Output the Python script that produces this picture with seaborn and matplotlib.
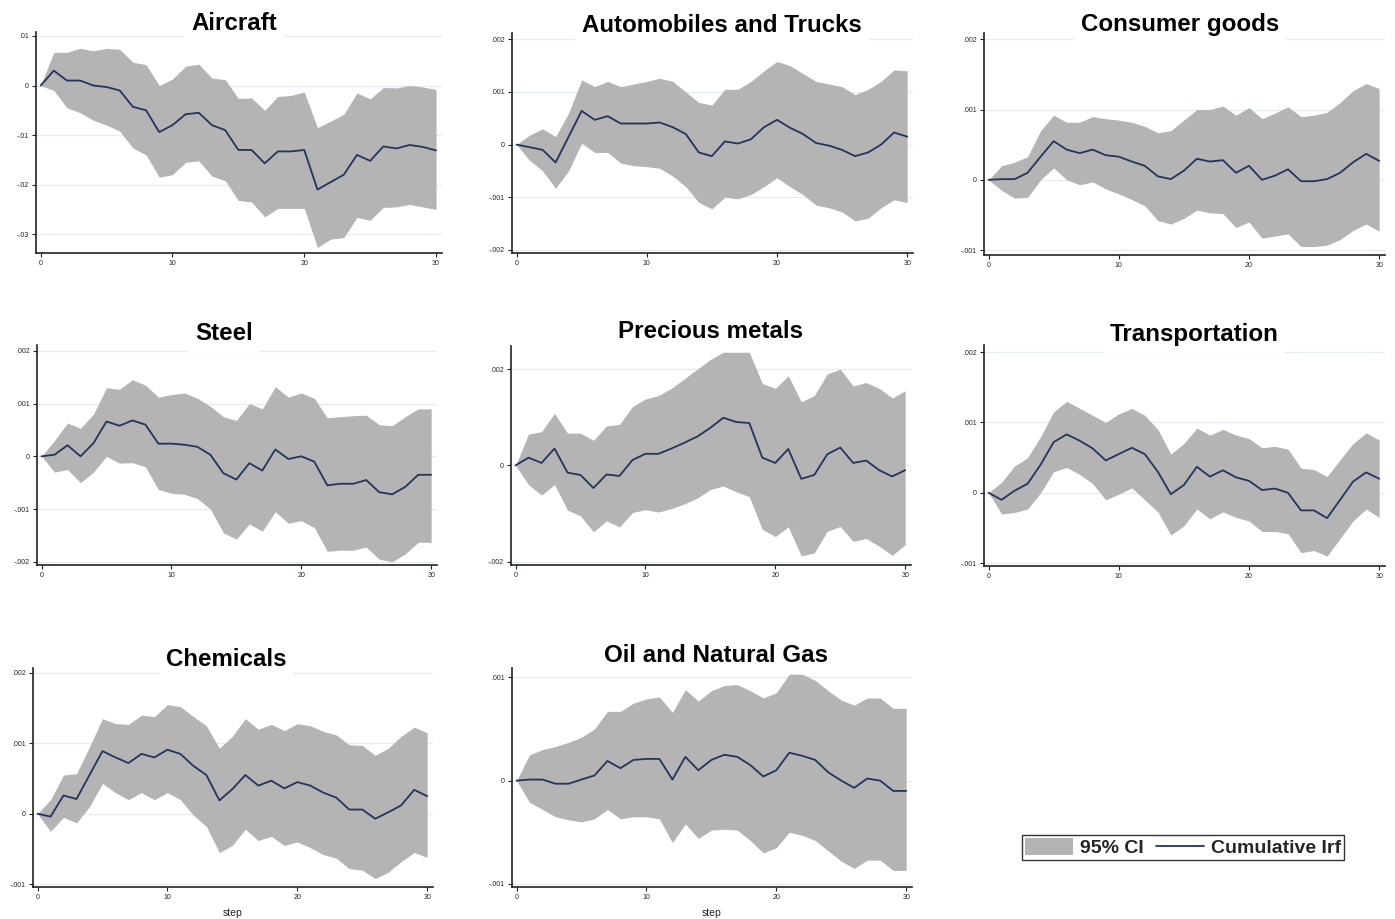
import numpy as np
import pandas as pd
import matplotlib
matplotlib.use("Agg")
import matplotlib.pyplot as plt
import seaborn as sns
from matplotlib.patches import Patch
from matplotlib.lines import Line2D

steps = list(range(31))

titles = ["Aircraft", "Automobiles and Trucks", "Consumer goods", "Steel",
          "Precious metals", "Transportation", "Chemicals", "Oil and Natural Gas"]

aircraft_irf = [0, 0.003, 0.001, 0.001, 0.0, -0.0003, -0.001, -0.0043, -0.005, -0.0094, -0.008,
                -0.0058, -0.0055, -0.008, -0.009, -0.013, -0.013, -0.0157, -0.0133, -0.0133, -0.013,
                -0.021, -0.0195, -0.018, -0.014, -0.0152, -0.0123, -0.0127, -0.012, -0.0124, -0.0131]
aircraft_hi = [0, 0.0067, 0.0067, 0.0075, 0.007, 0.0075, 0.0073, 0.0047, 0.0042, 0.0, 0.0013,
               0.0039, 0.0043, 0.0015, 0.0012, -0.0026, -0.0025, -0.005, -0.0022, -0.002, -0.0013,
               -0.0085, -0.0072, -0.0058, -0.0015, -0.0027, -0.0004, -0.0005, 0.0, -0.0003, -0.0008]
aircraft_lo = [0, -0.001, -0.0045, -0.0055, -0.007, -0.008, -0.0092, -0.0126, -0.014, -0.0185, -0.018,
               -0.0155, -0.0152, -0.0183, -0.0192, -0.0232, -0.0235, -0.0265, -0.0248, -0.0248, -0.0248,
               -0.0327, -0.031, -0.0307, -0.0266, -0.0272, -0.0246, -0.0245, -0.024, -0.0245, -0.025]

autos_irf = [0, -0.00005, -0.0001, -0.00034, 0.00015, 0.00064, 0.00047, 0.00054, 0.0004, 0.0004, 0.0004,
             0.00042, 0.00033, 0.0002, -0.00015, -0.00022, 0.00006, 0.00002, 0.0001, 0.00033, 0.00047,
             0.00032, 0.0002, 0.00003, -0.00002, -0.0001, -0.00022, -0.00015, 0.0, 0.00023, 0.00015]
autos_hi = [0, 0.00018, 0.0003, 0.00015, 0.0006, 0.00123, 0.0011, 0.0012, 0.0011, 0.00115, 0.0012,
            0.00126, 0.0012, 0.001, 0.0008, 0.00075, 0.00105, 0.00105, 0.0012, 0.0014, 0.00158,
            0.0015, 0.00135, 0.0012, 0.00115, 0.0011, 0.00095, 0.00105, 0.0012, 0.00142, 0.0014]
autos_lo = [0, -0.0003, -0.0005, -0.00083, -0.0005, 0.00003, -0.00015, -0.00015, -0.00035, -0.0004, -0.00042,
            -0.00045, -0.0006, -0.0008, -0.0011, -0.00122, -0.001, -0.00103, -0.00095, -0.0008, -0.00063,
            -0.0008, -0.00095, -0.00115, -0.0012, -0.00128, -0.00145, -0.0014, -0.0012, -0.00105, -0.0011]

consumer_irf = [0, 0.00001, 0.00001, 0.0001, 0.00033, 0.00055, 0.00043, 0.00038, 0.00043, 0.00035, 0.00033,
                0.00026, 0.0002, 0.00005, 0.00001, 0.00013, 0.0003, 0.00026, 0.00028, 0.0001, 0.0002,
                0.0, 0.00006, 0.00015, -0.00002, -0.00002, 0.00001, 0.0001, 0.00025, 0.00037, 0.00027]
consumer_hi = [0, 0.0002, 0.00025, 0.00033, 0.0007, 0.00092, 0.00082, 0.00082, 0.0009, 0.00087, 0.00085,
               0.00082, 0.00076, 0.00067, 0.0007, 0.00085, 0.001, 0.001, 0.00105, 0.00092, 0.00103,
               0.00087, 0.00095, 0.00104, 0.0009, 0.00092, 0.00096, 0.0011, 0.00127, 0.00137, 0.0013]
consumer_lo = [0, -0.00015, -0.00026, -0.00025, 0.0, 0.00017, 0.0, -0.00007, -0.00003, -0.00013, -0.0002,
               -0.00028, -0.00037, -0.00058, -0.00063, -0.00055, -0.00043, -0.00047, -0.00048, -0.00068, -0.0006,
               -0.00083, -0.0008, -0.00077, -0.00095, -0.00095, -0.00093, -0.00085, -0.00072, -0.00063, -0.00073]

steel_irf = [0, 0.00003, 0.00021, 0.0, 0.00025, 0.00066, 0.00058, 0.00068, 0.0006, 0.00024, 0.00024,
             0.00022, 0.00018, 0.00003, -0.00032, -0.00044, -0.00013, -0.00027, 0.00013, -0.00005, 0.0,
             -0.0001, -0.00055, -0.00052, -0.00052, -0.00045, -0.00068, -0.00072, -0.00058, -0.00035, -0.00035]
steel_hi = [0, 0.0003, 0.00063, 0.00053, 0.0008, 0.0013, 0.00127, 0.00145, 0.00135, 0.00112, 0.00117,
            0.0012, 0.0011, 0.00095, 0.00075, 0.00068, 0.001, 0.0009, 0.00132, 0.00112, 0.0012,
            0.0011, 0.00073, 0.00075, 0.00077, 0.00078, 0.0006, 0.00058, 0.00075, 0.0009, 0.0009]
steel_lo = [0, -0.0003, -0.00025, -0.0005, -0.0003, 0.0, -0.00013, -0.00012, -0.0002, -0.00063, -0.0007,
            -0.00072, -0.0008, -0.001, -0.00145, -0.00157, -0.00128, -0.00142, -0.00105, -0.00127, -0.00122,
            -0.00135, -0.0018, -0.00178, -0.00178, -0.00172, -0.00195, -0.002, -0.00185, -0.00163, -0.00163]

precious_irf = [0, 0.00016, 0.00005, 0.00035, -0.00015, -0.0002, -0.00047, -0.00019, -0.00022, 0.00011, 0.00024,
                0.00024, 0.00035, 0.00047, 0.0006, 0.00078, 0.00099, 0.0009, 0.00088, 0.00016, 0.00005,
                0.00034, -0.00028, -0.0002, 0.00023, 0.00037, 0.00005, 0.0001, -0.0001, -0.00023, -0.0001]
precious_hi = [0, 0.00065, 0.0007, 0.00108, 0.00067, 0.00067, 0.00052, 0.00082, 0.00085, 0.00122, 0.00138,
               0.00145, 0.0016, 0.0018, 0.002, 0.0022, 0.00235, 0.00235, 0.00235, 0.0017, 0.0016,
               0.00186, 0.00132, 0.00145, 0.0019, 0.002, 0.00165, 0.00172, 0.0016, 0.0014, 0.00155]
precious_lo = [0, -0.0004, -0.00062, -0.0004, -0.00093, -0.00105, -0.00138, -0.00115, -0.00128, -0.00098, -0.00092,
               -0.00097, -0.0009, -0.0008, -0.00068, -0.0005, -0.00043, -0.00055, -0.00065, -0.00133, -0.00148,
               -0.00128, -0.00188, -0.00182, -0.00137, -0.00127, -0.00158, -0.00152, -0.00168, -0.00187, -0.00165]

transport_irf = [0, -0.0001, 0.00003, 0.00013, 0.0004, 0.00072, 0.00083, 0.00074, 0.00063, 0.00046, 0.00055,
                 0.00064, 0.00055, 0.0003, -0.00002, 0.00011, 0.00037, 0.00023, 0.00032, 0.00022, 0.00017,
                 0.00004, 0.00006, 0.0, -0.00025, -0.00025, -0.00036, -0.0001, 0.00016, 0.00029, 0.0002]
transport_hi = [0, 0.00015, 0.00038, 0.0005, 0.0008, 0.00115, 0.0013, 0.0012, 0.0011, 0.001, 0.00112,
                0.0012, 0.0011, 0.0009, 0.00055, 0.0007, 0.00092, 0.00082, 0.0009, 0.00082, 0.00077,
                0.00064, 0.00066, 0.00062, 0.00035, 0.00033, 0.00023, 0.00047, 0.0007, 0.00085, 0.00075]
transport_lo = [0, -0.0003, -0.00028, -0.00023, 0.0, 0.0003, 0.00036, 0.00026, 0.00013, -0.0001, -0.00002,
                0.00007, -0.0001, -0.00027, -0.0006, -0.00047, -0.00023, -0.00037, -0.00027, -0.00035, -0.0004,
                -0.00055, -0.00055, -0.00058, -0.00085, -0.00082, -0.0009, -0.00065, -0.0004, -0.00023, -0.00035]

chem_irf = [0, -0.00004, 0.00026, 0.00021, 0.00055, 0.00089, 0.0008, 0.00072, 0.00085, 0.0008, 0.00091,
            0.00085, 0.00068, 0.00055, 0.00019, 0.00035, 0.00055, 0.0004, 0.00047, 0.00036, 0.00045,
            0.0004, 0.0003, 0.00023, 0.00006, 0.00006, -0.00007, 0.00002, 0.00012, 0.00034, 0.00025]
chem_hi = [0, 0.0002, 0.00055, 0.00057, 0.00095, 0.00135, 0.00128, 0.00127, 0.0014, 0.00138, 0.00155,
           0.00152, 0.00138, 0.00125, 0.00093, 0.0011, 0.00135, 0.0012, 0.00127, 0.00118, 0.00128,
           0.00125, 0.00117, 0.00112, 0.00098, 0.00097, 0.00083, 0.00093, 0.0011, 0.00123, 0.00115]
chem_lo = [0, -0.00025, -0.00005, -0.00013, 0.0001, 0.00043, 0.0003, 0.0002, 0.0003, 0.0002, 0.0003,
           0.0002, -0.00002, -0.00018, -0.00055, -0.00045, -0.00022, -0.00038, -0.00032, -0.00045, -0.0004,
           -0.00048, -0.00058, -0.00063, -0.00078, -0.0008, -0.00092, -0.00083, -0.00068, -0.00055, -0.00062]

oil_irf = [0, 0.00001, 0.00001, -0.00003, -0.00003, 0.00001, 0.00005, 0.00019, 0.00012, 0.0002, 0.00021,
           0.00021, 0.00001, 0.00023, 0.0001, 0.0002, 0.00025, 0.00023, 0.00015, 0.00004, 0.0001,
           0.00027, 0.00024, 0.0002, 0.00008, 0.0, -0.00007, 0.00002, 0.0, -0.0001, -0.0001]
oil_hi = [0, 0.00025, 0.0003, 0.00033, 0.00037, 0.00042, 0.0005, 0.00067, 0.00067, 0.00075, 0.00079,
          0.00081, 0.00066, 0.00088, 0.00077, 0.00087, 0.00092, 0.00093, 0.00087, 0.0008, 0.00085,
          0.00103, 0.00103, 0.00097, 0.00087, 0.00078, 0.00073, 0.0008, 0.0008, 0.0007, 0.0007]
oil_lo = [0, -0.00021, -0.00028, -0.00035, -0.00038, -0.0004, -0.00037, -0.00028, -0.00037, -0.00035, -0.00035,
          -0.00037, -0.0006, -0.00042, -0.00056, -0.00048, -0.00047, -0.00048, -0.00058, -0.0007, -0.00065,
          -0.0005, -0.00053, -0.00058, -0.00068, -0.00078, -0.00085, -0.00077, -0.00077, -0.00087, -0.00087]

x_ticks = [0, 10, 20, 30]
x_tick_labels = ["0", "10", "20", "30"]

y_ticks = [
    [0.01, 0, -0.01, -0.02, -0.03],
    [0.002, 0.001, 0, -0.001, -0.002],
    [0.002, 0.001, 0, -0.001],
    [0.002, 0.001, 0, -0.001, -0.002],
    [0.002, 0, -0.002],
    [0.002, 0.001, 0, -0.001],
    [0.002, 0.001, 0, -0.001],
    [0.001, 0, -0.001],
]
y_tick_labels = [
    [".01", "0", "-.01", "-.02", "-.03"],
    [".002", ".001", "0", "-.001", "-.002"],
    [".002", ".001", "0", "-.001"],
    [".002", ".001", "0", "-.001", "-.002"],
    [".002", "0", "-.002"],
    [".002", ".001", "0", "-.001"],
    [".002", ".001", "0", "-.001"],
    [".001", "0", "-.001"],
]

series = [
    (aircraft_irf, aircraft_lo, aircraft_hi),
    (autos_irf, autos_lo, autos_hi),
    (consumer_irf, consumer_lo, consumer_hi),
    (steel_irf, steel_lo, steel_hi),
    (precious_irf, precious_lo, precious_hi),
    (transport_irf, transport_lo, transport_hi),
    (chem_irf, chem_lo, chem_hi),
    (oil_irf, oil_lo, oil_hi),
]

# layout (pixels): left, top, right, bottom, ylim, title center x, title center y
layout = [
    (36, 32, 442, 253, (-0.0338, 0.0108), 234, 23),
    (512, 33, 913, 253, (-0.00206, 0.00212), 722, 25),
    (984, 33, 1385, 255, (-0.00107, 0.00209), 1180, 25),
    (37, 345, 437, 565, (-0.00206, 0.00211), 224, 333),
    (511, 346, 911, 565, (-0.00207, 0.00248), 710, 332),
    (984, 345, 1385, 566, (-0.00104, 0.0021), 1194, 334),
    (33, 668, 433, 887, (-0.00104, 0.00207), 226, 660),
    (512, 668, 912, 887, (-0.00103, 0.00109), 716, 655),
]

sns.set_style("white")
plt.rcParams['font.family'] = ['Liberation Sans', 'DejaVu Sans']

W, H = 1395, 919
fig = plt.figure(figsize=(W / 100, H / 100), dpi=100)

band_color = "#b4b4b4"
line_color = "#24345e"
grid_color = "#e3ecf0"

for i, (title, (irf, lo, hi), lay) in enumerate(zip(titles, series, layout)):
    l, t, r, b, ylim, tx, ty = lay
    ax = fig.add_axes([l / W, 1 - b / H, (r - l) / W, (b - t) / H])
    df = pd.DataFrame({"step": steps, "irf": irf, "lo": lo, "hi": hi})
    ax.fill_between(df["step"], df["lo"], df["hi"], color=band_color, linewidth=0, zorder=1)
    sns.lineplot(data=df, x="step", y="irf", ax=ax, color=line_color, linewidth=1.3, zorder=2)
    ax.set_xlim(-0.35, 30.45)
    ax.set_ylim(*ylim)
    ax.set_xticks(x_ticks)
    ax.set_xticklabels(x_tick_labels)
    ax.set_yticks(y_ticks[i])
    ax.set_yticklabels(y_tick_labels[i])
    ax.tick_params(axis="both", which="both", direction="out", length=3, width=0.8,
                   labelsize=5, pad=2, colors="#222222", left=True, bottom=True)
    ax.set_axisbelow(True)
    ax.yaxis.grid(True, color=grid_color, linewidth=0.9)
    ax.xaxis.grid(False)
    for s in ["top", "right"]:
        ax.spines[s].set_visible(False)
    for s in ["left", "bottom"]:
        ax.spines[s].set_color("#222222")
        ax.spines[s].set_linewidth(1.2)
    ax.set_ylabel("")
    if i >= 6:
        ax.set_xlabel("step", fontsize=7.5, labelpad=5, color="#222222")
    else:
        ax.set_xlabel("")
    fig.text(tx / W, 1 - ty / H, title, ha="center", va="center", fontsize=17.4,
             fontweight="bold", color="black",
             bbox=dict(facecolor="white", edgecolor="none", pad=5))

handles = [Patch(facecolor=band_color, edgecolor="none", label="95% CI"),
           Line2D([], [], color=line_color, linewidth=1.3, label="Cumulative Irf")]
leg = fig.legend(handles=handles, loc="center", bbox_to_anchor=(1183 / W, 1 - 847.5 / H),
                 ncol=2, frameon=True, fancybox=False, edgecolor="black",
                 prop={"weight": "bold", "size": 14}, handlelength=2.5, handleheight=0.95,
                 columnspacing=0.6, handletextpad=0.35, borderpad=0.15, borderaxespad=0)
leg.get_frame().set_linewidth(1.0)

fig.savefig("out.png", dpi=100, facecolor="white")
